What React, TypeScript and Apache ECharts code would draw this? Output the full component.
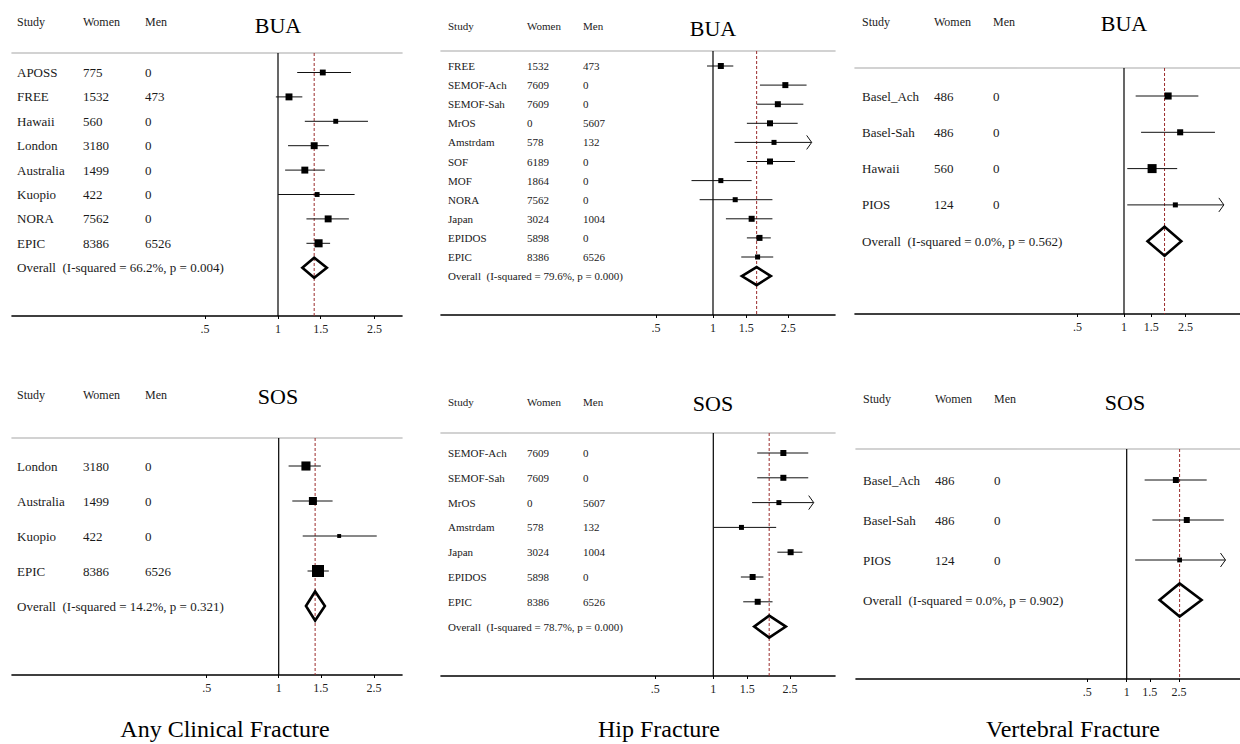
import React, { useEffect, useRef } from 'react';
import * as echarts from 'echarts';

// ---------- tick labels / headers ----------
const tickValues = [0.5, 1, 1.5, 2.5];
const tickLabels = ['.5', '1', '1.5', '2.5'];
const columnHeaders = ['Study', 'Women', 'Men'];
const measureTitles = ['BUA', 'BUA', 'BUA', 'SOS', 'SOS', 'SOS'];
const fractureTitles = ['Any Clinical Fracture', 'Hip Fracture', 'Vertebral Fracture'];
const nullEffect = 1;

// ---------- Any clinical fracture, BUA ----------
const acBuaStudies = ['APOSS', 'FREE', 'Hawaii', 'London', 'Australia', 'Kuopio', 'NORA', 'EPIC'];
const acBuaWomen = [775, 1532, 560, 3180, 1499, 422, 7562, 8386];
const acBuaMen = [0, 473, 0, 0, 0, 0, 0, 6526];
const acBuaEst = [1.53, 1.11, 1.73, 1.41, 1.29, 1.45, 1.61, 1.47];
const acBuaLo = [1.2, 0.98, 1.29, 1.1, 1.07, 1.0, 1.31, 1.31];
const acBuaHi = [2.0, 1.26, 2.35, 1.62, 1.56, 2.07, 1.96, 1.64];
const acBuaWeight = [10, 14, 7, 14, 14, 7, 14, 19];
const acBuaOverall = [1.41, 1.26, 1.59];
const acBuaStats = 'Overall  (I-squared = 66.2%, p = 0.004)';

// ---------- Hip fracture, BUA ----------
const hipBuaStudies = ['FREE', 'SEMOF-Ach', 'SEMOF-Sah', 'MrOS', 'Amstrdam', 'SOF', 'MOF', 'NORA', 'Japan', 'EPIDOS', 'EPIC'];
const hipBuaWomen = [1532, 7609, 7609, 0, 578, 6189, 1864, 7562, 3024, 5898, 8386];
const hipBuaMen = [473, 0, 0, 5607, 132, 0, 0, 0, 1004, 0, 6526];
const hipBuaEst = [1.1, 2.41, 2.2, 2.0, 2.1, 2.0, 1.1, 1.31, 1.6, 1.76, 1.72];
const hipBuaLo = [0.93, 1.77, 1.7, 1.51, 1.3, 1.51, 0.77, 0.85, 1.17, 1.51, 1.41];
const hipBuaHi = [1.28, 3.12, 3.0, 2.8, 3.6, 2.71, 1.6, 2.06, 2.06, 2.02, 2.08];
const hipBuaWeight = [10, 10, 10, 10, 7, 10, 7, 7, 10, 10, 7];
const hipBuaOverall = [1.7, 1.42, 2.02];
const hipBuaStats = 'Overall  (I-squared = 79.6%, p = 0.000)';

// ---------- Vertebral fracture, BUA ----------
const vertBuaStudies = ['Basel_Ach', 'Basel-Sah', 'Hawaii', 'PIOS'];
const vertBuaWomen = [486, 486, 560, 124];
const vertBuaMen = [0, 0, 0, 0];
const vertBuaEst = [1.93, 2.31, 1.52, 2.15];
const vertBuaLo = [1.19, 1.29, 1.05, 1.05];
const vertBuaHi = [3.03, 3.88, 2.21, 5.0];
const vertBuaWeight = [26, 19, 42, 13];
const vertBuaOverall = [1.83, 1.42, 2.35];
const vertBuaStats = 'Overall  (I-squared = 0.0%, p = 0.562)';

// ---------- Any clinical fracture, SOS ----------
const acSosStudies = ['London', 'Australia', 'Kuopio', 'EPIC'];
const acSosWomen = [3180, 1499, 422, 8386];
const acSosMen = [0, 0, 0, 6526];
const acSosEst = [1.3, 1.39, 1.79, 1.46];
const acSosLo = [1.1, 1.14, 1.26, 1.32];
const acSosHi = [1.5, 1.68, 2.57, 1.62];
const acSosWeight = [27, 21, 5, 47];
const acSosOverall = [1.42, 1.3, 1.56];
const acSosStats = 'Overall  (I-squared = 14.2%, p = 0.321)';

// ---------- Hip fracture, SOS ----------
const hipSosStudies = ['SEMOF-Ach', 'SEMOF-Sah', 'MrOS', 'Amstrdam', 'Japan', 'EPIDOS', 'EPIC'];
const hipSosWomen = [7609, 7609, 0, 578, 3024, 5898, 8386];
const hipSosMen = [0, 0, 5607, 132, 1004, 0, 6526];
const hipSosEst = [2.31, 2.31, 2.19, 1.4, 2.52, 1.6, 1.7];
const hipSosLo = [1.69, 1.69, 1.59, 1.0, 2.15, 1.39, 1.43];
const hipSosHi = [3.11, 3.11, 3.6, 2.12, 2.9, 1.82, 2.03];
const hipSosWeight = [16, 16, 11, 11, 16, 16, 16];
const hipSosOverall = [1.95, 1.63, 2.38];
const hipSosStats = 'Overall  (I-squared = 78.7%, p = 0.000)';

// ---------- Vertebral fracture, SOS ----------
const vertSosStudies = ['Basel_Ach', 'Basel-Sah', 'PIOS'];
const vertSosWomen = [486, 486, 124];
const vertSosMen = [0, 0, 0];
const vertSosEst = [2.37, 2.87, 2.53];
const vertSosLo = [1.37, 1.57, 1.16];
const vertSosHi = [4.07, 5.5, 7.0];
const vertSosWeight = [38, 38, 24];
const vertSosOverall = [2.53, 1.78, 3.72];
const vertSosStats = 'Overall  (I-squared = 0.0%, p = 0.902)';

const FONT = '"Liberation Serif", "DejaVu Serif", "Times New Roman", serif';

type Layout = {
  left: number; right: number; one: number; unit: number;
  top: number; bottom: number; row0: number; step: number;
  headerY: number; cols: number[]; titleX: number; titleY: number;
  rowFont: number; headerFont: number; diamondH: number; arrowAt: number; boxScale: number;
};

const layouts: Layout[] = [
  { left: 12, right: 402, one: 278, unit: 73, top: 53, bottom: 316, row0: 72.5, step: 24.4, headerY: 23, cols: [17, 83, 145], titleX: 278, titleY: 25, rowFont: 13, headerFont: 12, diamondH: 20, arrowAt: 3.3, boxScale: 1.85 },
  { left: 441, right: 835, one: 713, unit: 57, top: 51, bottom: 315, row0: 66, step: 19.1, headerY: 27, cols: [448, 527, 583], titleX: 713, titleY: 28, rowFont: 11, headerFont: 11, diamondH: 18, arrowAt: 3.32, boxScale: 1.9 },
  { left: 855, right: 1240, one: 1124, unit: 46.5, top: 68, bottom: 314, row0: 96, step: 36.3, headerY: 23, cols: [862, 934, 993], titleX: 1124, titleY: 23, rowFont: 13, headerFont: 12, diamondH: 29, arrowAt: 4.43, boxScale: 1.39 },
  { left: 12, right: 402, one: 278.7, unit: 72, top: 438, bottom: 675, row0: 466, step: 35, headerY: 396, cols: [17, 83, 145], titleX: 278, titleY: 396, rowFont: 13, headerFont: 12, diamondH: 29, arrowAt: 3.3, boxScale: 1.75 },
  { left: 441, right: 835, one: 713.3, unit: 58, top: 433, bottom: 676, row0: 453, step: 24.8, headerY: 403, cols: [448, 527, 583], titleX: 713, titleY: 403, rowFont: 11, headerFont: 11, diamondH: 22, arrowAt: 3.32, boxScale: 1.5 },
  { left: 856, right: 1240, one: 1126.7, unit: 39.5, top: 449, bottom: 679, row0: 480, step: 40, headerY: 400, cols: [863, 935, 994], titleX: 1125, titleY: 402, rowFont: 13, headerFont: 12, diamondH: 33, arrowAt: 5.66, boxScale: 0.97 },
];

const panelData = [
  { studies: acBuaStudies, women: acBuaWomen, men: acBuaMen, est: acBuaEst, lo: acBuaLo, hi: acBuaHi, weight: acBuaWeight, overall: acBuaOverall, stats: acBuaStats },
  { studies: hipBuaStudies, women: hipBuaWomen, men: hipBuaMen, est: hipBuaEst, lo: hipBuaLo, hi: hipBuaHi, weight: hipBuaWeight, overall: hipBuaOverall, stats: hipBuaStats },
  { studies: vertBuaStudies, women: vertBuaWomen, men: vertBuaMen, est: vertBuaEst, lo: vertBuaLo, hi: vertBuaHi, weight: vertBuaWeight, overall: vertBuaOverall, stats: vertBuaStats },
  { studies: acSosStudies, women: acSosWomen, men: acSosMen, est: acSosEst, lo: acSosLo, hi: acSosHi, weight: acSosWeight, overall: acSosOverall, stats: acSosStats },
  { studies: hipSosStudies, women: hipSosWomen, men: hipSosMen, est: hipSosEst, lo: hipSosLo, hi: hipSosHi, weight: hipSosWeight, overall: hipSosOverall, stats: hipSosStats },
  { studies: vertSosStudies, women: vertSosWomen, men: vertSosMen, est: vertSosEst, lo: vertSosLo, hi: vertSosHi, weight: vertSosWeight, overall: vertSosOverall, stats: vertSosStats },
];

const lg = (v: number) => Math.log2(v);

function makeRenderItem(L: Layout) {
  const clipLog = lg(L.arrowAt);
  const oneLog = lg(nullEffect);
  return (params: any, api: any) => {
    const row = api.value(0);
    const lo = api.value(1);
    const est = api.value(2);
    const hi = api.value(3);
    const w = api.value(4);
    const ov = api.value(5);
    const cs = params.coordSys;
    const pE = api.coord([est, row]);
    const pL = api.coord([lo, row]);
    if (ov) {
      const pH = api.coord([hi, row]);
      const p1 = api.coord([oneLog, row]);
      const h = L.diamondH / 2;
      return {
        type: 'group',
        children: [
          { type: 'line', z2: 1, shape: { x1: p1[0], y1: cs.y, x2: p1[0], y2: cs.y + cs.height }, style: { stroke: '#000', lineWidth: 1.2 } },
          { type: 'line', z2: 2, shape: { x1: pE[0], y1: cs.y, x2: pE[0], y2: cs.y + cs.height }, style: { stroke: '#9b2d2d', lineWidth: 1, lineDash: [3, 2] } },
          {
            type: 'polygon', z2: 5,
            shape: { points: [[pL[0], pE[1]], [pE[0], pE[1] - h], [pH[0], pE[1]], [pE[0], pE[1] + h]] },
            style: { fill: 'none', stroke: '#000', lineWidth: 2.6, lineJoin: 'miter' },
          },
        ],
      };
    }
    const clipped = hi > clipLog;
    const pH = api.coord([clipped ? clipLog : hi, row]);
    const s = Math.sqrt(w) * L.boxScale;
    const children: any[] = [
      { type: 'line', z2: 3, shape: { x1: pL[0], y1: pE[1], x2: pH[0], y2: pE[1] }, style: { stroke: '#111', lineWidth: 1 } },
      { type: 'rect', z2: 6, shape: { x: pE[0] - s / 2, y: pE[1] - s / 2, width: s, height: s }, style: { fill: '#000' } },
    ];
    if (clipped) {
      children.push({
        type: 'polyline', z2: 3,
        shape: { points: [[pH[0] - 5, pE[1] - 7], [pH[0], pE[1]], [pH[0] - 5, pE[1] + 7]] },
        style: { stroke: '#111', fill: 'none', lineWidth: 1 },
      });
    }
    return { type: 'group', children };
  };
}

function buildOption() {
  const grid: any[] = [];
  const xAxis: any[] = [];
  const yAxis: any[] = [];
  const series: any[] = [];
  const graphic: any[] = [];
  const tickLogs = tickValues.map(lg);

  layouts.forEach((L, i) => {
    const D = panelData[i];
    const n = D.studies.length;
    grid.push({ left: L.left, top: L.top, width: L.right - L.left, height: L.bottom - L.top });
    const xmin = (L.left - L.one) / L.unit;
    const xmax = (L.right - L.one) / L.unit;
    xAxis.push({
      type: 'value', gridIndex: i, min: xmin, max: xmax, position: 'bottom',
      axisLine: { onZero: false, lineStyle: { color: '#000', width: 1.6 } },
      axisTick: { show: true, customValues: tickLogs, length: 3, lineStyle: { color: '#000', width: 1 } },
      axisLabel: {
        customValues: tickLogs, margin: 7, fontFamily: FONT, fontSize: 12, color: '#222',
        formatter: (v: number) => {
          const k = tickLogs.findIndex((t) => Math.abs(t - v) < 1e-6);
          return k >= 0 ? tickLabels[k] : '';
        },
      },
      splitLine: { show: false },
    });
    xAxis.push({
      type: 'value', gridIndex: i, min: xmin, max: xmax, position: 'top',
      axisLine: { onZero: false, lineStyle: { color: '#c4c4c4', width: 1.6 } },
      axisTick: { show: false }, axisLabel: { show: false }, splitLine: { show: false },
    });
    const rows = Array.from({ length: n + 1 }, (_, k) => k);
    const txt = { fontFamily: FONT, fontSize: L.rowFont, color: '#1a1a1a' };
    yAxis.push({
      type: 'value', gridIndex: i, inverse: true,
      min: (L.top - L.row0) / L.step, max: (L.bottom - L.row0) / L.step,
      axisLine: { show: false, onZero: false }, axisTick: { show: false }, splitLine: { show: false },
      axisLabel: {
        inside: true, margin: L.cols[0] - L.left, customValues: rows,
        fontFamily: FONT, fontSize: L.rowFont, color: '#1a1a1a',
        formatter: (v: number) => {
          const k = Math.round(v);
          if (k < n) return `{s|${D.studies[k]}}{w|${D.women[k]}}{m|${D.men[k]}}`;
          return `{o|${D.stats}}`;
        },
        rich: {
          s: { ...txt, width: L.cols[1] - L.cols[0] },
          w: { ...txt, width: L.cols[2] - L.cols[1] },
          m: { ...txt },
          o: { ...txt },
        },
      },
    });
    const data: number[][] = [];
    data.push([n, lg(D.overall[1]), lg(D.overall[0]), lg(D.overall[2]), 0, 1]);
    for (let k = 0; k < n; k++) {
      data.push([k, lg(D.lo[k]), lg(D.est[k]), lg(D.hi[k]), D.weight[k], 0]);
    }
    series.push({
      type: 'custom', xAxisIndex: 2 * i, yAxisIndex: i, silent: true, clip: false,
      encode: { x: [1, 2, 3], y: 0 },
      renderItem: makeRenderItem(L),
      data,
    });
    columnHeaders.forEach((h, c) => {
      graphic.push({
        type: 'text', left: L.cols[c], top: L.headerY - L.headerFont * 0.6,
        style: { text: h, fontFamily: FONT, fontSize: L.headerFont, fill: '#222' },
      });
    });
    graphic.push({
      type: 'text', x: L.titleX, y: L.titleY,
      style: { text: measureTitles[i], fontFamily: FONT, fontSize: 22, fill: '#000', textAlign: 'center', textVerticalAlign: 'middle' },
    });
  });

  const bottomCenters = [225, 659, 1073];
  fractureTitles.forEach((t, i) => {
    graphic.push({
      type: 'text', x: bottomCenters[i], y: 729,
      style: { text: t, fontFamily: FONT, fontSize: 24, fill: '#000', textAlign: 'center', textVerticalAlign: 'middle' },
    });
  });

  return { animation: false, backgroundColor: '#fff', grid, xAxis, yAxis, series, graphic };
}

export default function App() {
  const ref = useRef<HTMLDivElement>(null);
  useEffect(() => {
    const chart = echarts.init(ref.current!, null, { renderer: 'svg' });
    chart.setOption(buildOption() as any);
    return () => chart.dispose();
  }, []);
  return (
    <div
      ref={ref}
      style={{ position: 'absolute', left: 0, top: 0, width: 1240, height: 744, background: '#fff' }}
    />
  );
}
